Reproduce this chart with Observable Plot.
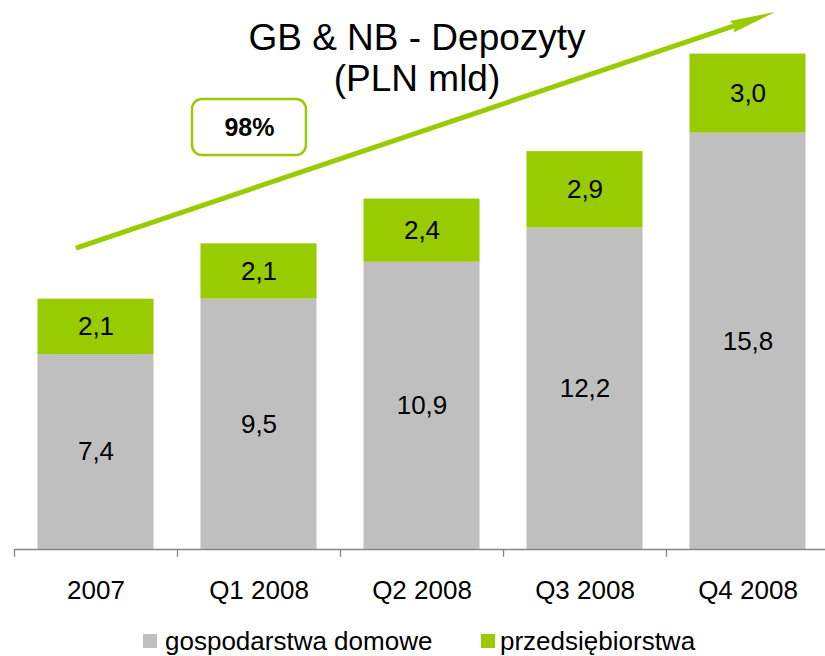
<!DOCTYPE html>
<html>
<head>
<meta charset="utf-8">
<script src="https://cdn.jsdelivr.net/npm/d3@7"></script>
<script src="https://cdn.jsdelivr.net/npm/@observablehq/plot@0.6"></script>
<style>
  body { margin: 0; background: #fff; font-family: "Liberation Sans", Arial, sans-serif; }
  #wrap { position: relative; width: 825px; height: 656px; }
  #legend { position: relative; height: 36px; font-size: 26px; color: #000; }
  #legend .sw { position: absolute; width: 14px; height: 14px; top: 14px; }
  #legend .lb { position: absolute; top: 8px; line-height: 26px; white-space: nowrap; }
</style>
</head>
<body>
<div id="wrap">
  <div id="chart"></div>
  <div id="legend"></div>
</div>
<script>
// ---- data ----
const categories = ["2007", "Q1 2008", "Q2 2008", "Q3 2008", "Q4 2008"];
const households = [7.4, 9.5, 10.9, 12.2, 15.8];   // gospodarstwa domowe
const companies  = [2.1, 2.1, 2.4, 2.9, 3.0];      // przedsiębiorstwa
const seriesNames = ["gospodarstwa domowe", "przedsiębiorstwa"];
const titleText = "GB & NB - Depozyty\n(PLN mld)";
const growthLabel = "98%";

// ---- styles ----
const GRAY = "#bfbfbf";
const GREEN = "#99cc00";
const AXIS = "#868686";
const FONT = "'Liberation Sans', Arial, sans-serif";

const idx = categories.map((_, i) => i);
const half = 0.356;
const segments = [];
idx.forEach(i => {
  segments.push({i, s: 0, y1: 0, y2: households[i], v: households[i]});
  segments.push({i, s: 1, y1: households[i], y2: households[i] + companies[i], v: companies[i]});
});
const fmt = v => v.toFixed(1).replace(".", ",");
const boundaries = idx.slice(0, -1).map(i => i + 0.5).concat([-0.5]);

// annotation geometry in data space
const arrowData = {x1: -0.12, y1: 11.42, x2: 4.17, y2: 20.38};
const boxData = [{x1: 0.592, x2: 1.291, y1: 14.95, y2: 17.08}];

// custom arrow mark: shaft + filled narrow head, positioned through the plot scales
function growthArrow(index, scales) {
  const sx = scales.x(arrowData.x1), sy = scales.y(arrowData.y1);
  const ex = scales.x(arrowData.x2), ey = scales.y(arrowData.y2);
  const dx = ex - sx, dy = ey - sy, L = Math.hypot(dx, dy);
  const ux = dx / L, uy = dy / L, px = -uy, py = ux;
  const headLen = 46, headHalf = 6, notch = 4;
  const bx = ex - ux * headLen, by = ey - uy * headLen;
  const g = d3.create("svg:g");
  g.append("line")
    .attr("x1", sx).attr("y1", sy)
    .attr("x2", bx + ux * 8).attr("y2", by + uy * 8)
    .attr("stroke", GREEN).attr("stroke-width", 5);
  const pts = [
    [ex, ey],
    [bx + px * headHalf, by + py * headHalf],
    [bx + ux * notch, by + uy * notch],
    [bx - px * headHalf, by - py * headHalf]
  ];
  g.append("polygon").attr("points", pts.map(p => p.join(",")).join(" ")).attr("fill", GREEN);
  return g.node();
}

const chart = Plot.plot({
  width: 825,
  height: 620,
  marginLeft: 14,
  marginRight: 0,
  marginTop: 0,
  marginBottom: 71,
  style: {fontFamily: FONT, fontSize: "26px", color: "#000", background: "#fff"},
  x: {domain: [-0.5, 4.5], range: [14, 829], axis: null},
  y: {domain: [0, 20], range: [549, 22], axis: null},
  marks: [
    Plot.rectY(segments, {
      x1: d => d.i - half, x2: d => d.i + half,
      y1: "y1", y2: "y2",
      fill: d => d.s === 0 ? GRAY : GREEN
    }),
    Plot.text(segments, {
      x: "i", y: d => (d.y1 + d.y2) / 2,
      text: d => fmt(d.v), fill: "#000", fontSize: 26
    }),
    Plot.ruleY([0], {stroke: AXIS, strokeWidth: 1.3}),
    Plot.ruleX(boundaries, {y1: 0, y2: -0.3, stroke: AXIS, strokeWidth: 1.3}),
    Plot.axisX(idx, {
      tickFormat: i => categories[i], tickSize: 0, tickPadding: 31,
      label: null, fontSize: 26, fill: "#000"
    }),
    growthArrow,
    Plot.rect(boxData, {
      x1: "x1", x2: "x2", y1: "y1", y2: "y2",
      fill: "#fff", stroke: GREEN, strokeWidth: 2.5, rx: 10
    }),
    Plot.text(boxData, {
      x: d => (d.x1 + d.x2) / 2, y: d => (d.y1 + d.y2) / 2,
      text: () => growthLabel, fontWeight: "bold", fontSize: 25, fill: "#000"
    }),
    Plot.text([titleText], {
      frameAnchor: "top", dx: -3, dy: 21, lineAnchor: "top",
      fontSize: 37, lineHeight: 1.1, fill: "#000"
    })
  ]
});
document.getElementById("chart").appendChild(chart);

// legend
const legend = document.getElementById("legend");
const items = [
  {name: seriesNames[0], color: GRAY, sw: 143, lb: 165},
  {name: seriesNames[1], color: GREEN, sw: 481, lb: 500}
];
items.forEach(it => {
  const s = document.createElement("span");
  s.className = "sw"; s.style.left = it.sw + "px"; s.style.background = it.color;
  const l = document.createElement("span");
  l.className = "lb"; l.style.left = it.lb + "px"; l.textContent = it.name;
  legend.appendChild(s); legend.appendChild(l);
});
</script>
</body>
</html>
